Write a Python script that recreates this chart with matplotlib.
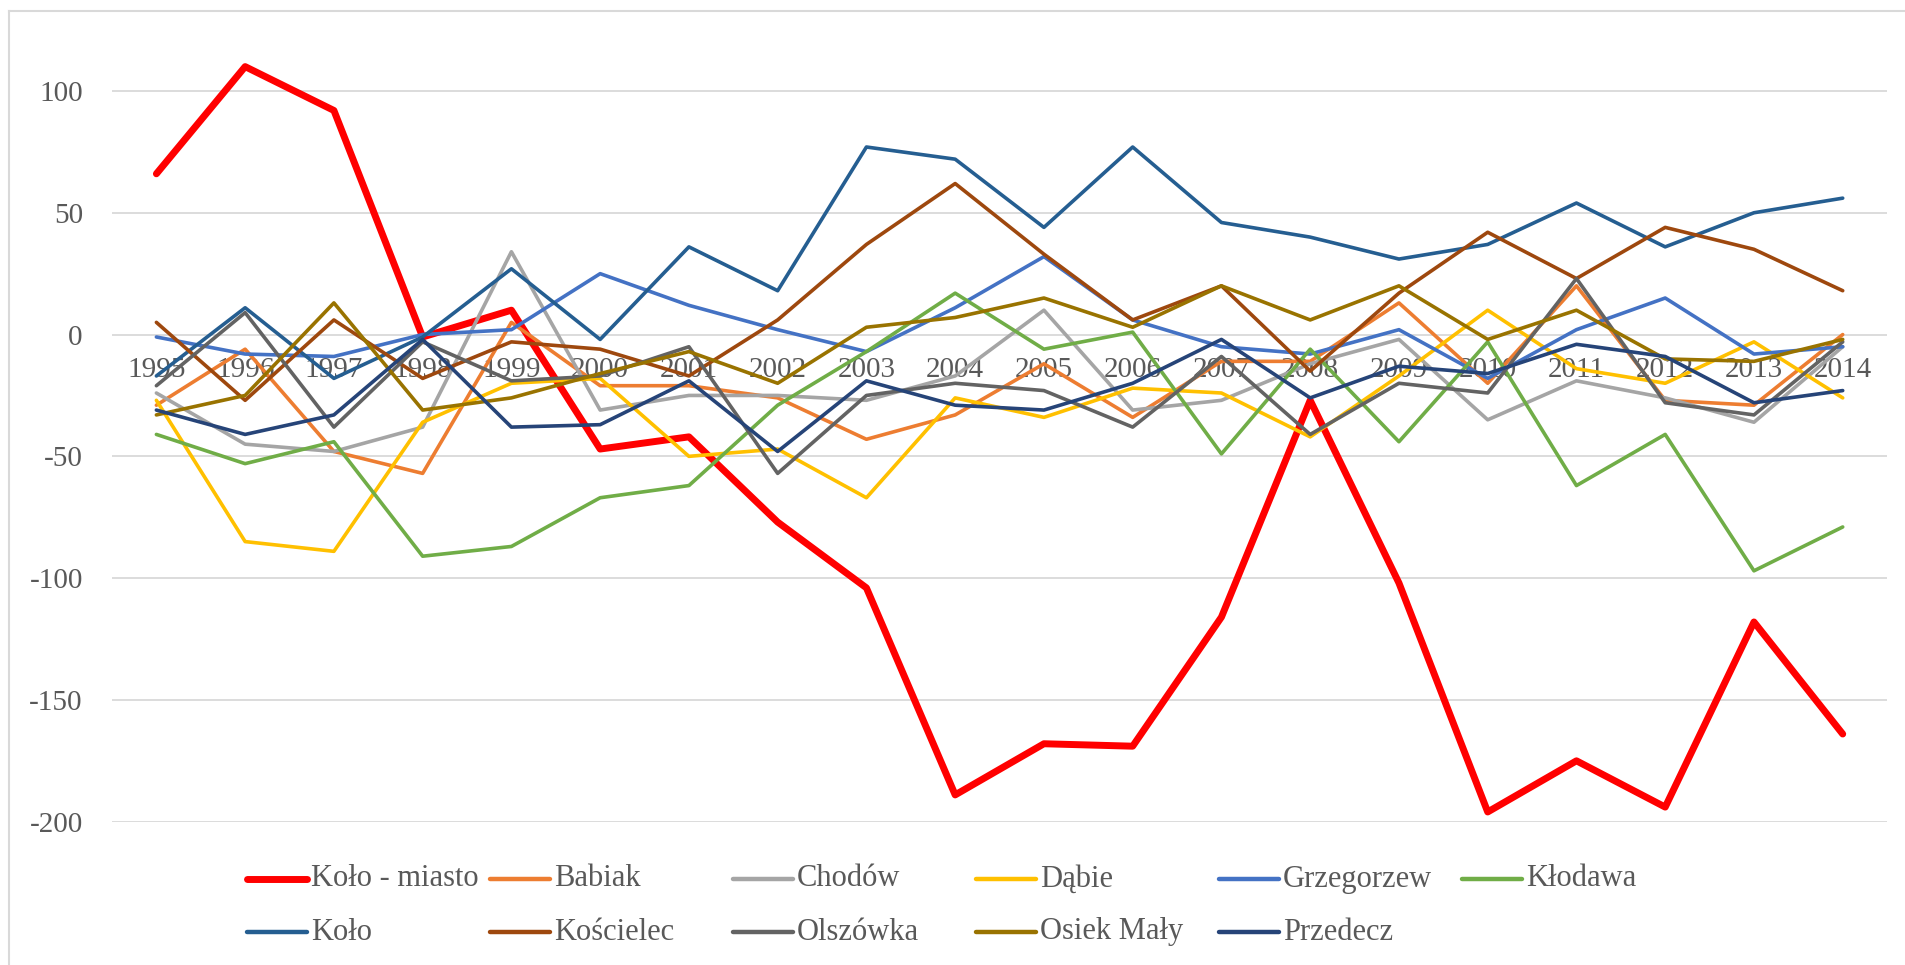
import matplotlib.pyplot as plt
from matplotlib.lines import Line2D

years = list(range(1995, 2015))

kolo_miasto = [66, 110, 92, -1, 10, -47, -42, -77, -104, -189, -168, -169, -116, -27, -102, -196, -175, -194, -118, -164]
babiak = [-29, -6, -48, -57, 5, -21, -21, -26, -43, -33, -12, -34, -11, -11, 13, -20, 20, -27, -29, 0]
chodow = [-24, -45, -48, -38, 34, -31, -25, -25, -27, -17, 10, -31, -27, -12, -2, -35, -19, -26, -36, -5]
dabie = [-27, -85, -89, -36, -20, -18, -50, -47, -67, -26, -34, -22, -24, -42, -17, 10, -14, -20, -3, -26]
grzegorzew = [-1, -8, -9, 0, 2, 25, 12, 2, -7, 11, 32, 6, -5, -8, 2, -18, 2, 15, -8, -5]
klodawa = [-41, -53, -44, -91, -87, -67, -62, -29, -7, 17, -6, 1, -49, -6, -44, -3, -62, -41, -97, -79]
kolo = [-17, 11, -18, -1, 27, -2, 36, 18, 77, 72, 44, 77, 46, 40, 31, 37, 54, 36, 50, 56]
koscielec = [5, -27, 6, -18, -3, -6, -17, 6, 37, 62, 33, 6, 20, -15, 17, 42, 23, 44, 35, 18]
olszowka = [-21, 9, -38, -3, -19, -17, -5, -57, -25, -20, -23, -38, -9, -41, -20, -24, 23, -28, -33, -3]
osiek_maly = [-33, -25, 13, -31, -26, -16, -7, -20, 3, 7, 15, 3, 20, 6, 20, -2, 10, -10, -11, -2]
przedecz = [-31, -41, -33, -2, -38, -37, -19, -48, -19, -29, -31, -20, -2, -26, -13, -16, -4, -9, -28, -23]

labels = ["Koło - miasto", "Babiak", "Chodów", "Dąbie", "Grzegorzew", "Kłodawa",
          "Koło", "Kościelec", "Olszówka", "Osiek Mały", "Przedecz"]
series = [kolo_miasto, babiak, chodow, dabie, grzegorzew, klodawa,
          kolo, koscielec, olszowka, osiek_maly, przedecz]
colors = ["#FF0000", "#ED7D31", "#A5A5A5", "#FFC000", "#4472C4", "#70AD47",
          "#255E91", "#9E480E", "#636363", "#997300", "#264478"]

plt.rcParams["font.family"] = ["Liberation Serif", "DejaVu Serif"]
plt.rcParams["axes.unicode_minus"] = False
text_color = "#595959"
fs = 21

fig = plt.figure(figsize=(19.05, 9.65), dpi=100)
ax = fig.add_axes([0.0588, 0.1485, 0.9318, 0.8077])

xs = list(range(len(years)))
for vals, col, lab in zip(series, colors, labels):
    lw = 5.0 if lab == "Koło - miasto" else 2.6
    ax.plot(xs, vals, color=col, lw=lw, solid_joinstyle="round",
            solid_capstyle="round", label=lab)

ax.set_xlim(-0.5, len(years) - 0.5)
ax.set_ylim(-200, 120)
ax.set_yticks(range(-200, 101, 50))
ax.set_xticks(xs)
ax.set_xticklabels([str(y) for y in years])

ax.yaxis.grid(True, color="#D9D9D9", lw=1.3)
ax.set_axisbelow(True)
for s in ["top", "right", "left"]:
    ax.spines[s].set_visible(False)
ax.spines["bottom"].set_position(("data", 0))
ax.spines["bottom"].set_visible(False)
ax.tick_params(axis="both", length=0, labelsize=fs, labelcolor=text_color)
ax.tick_params(axis="x", pad=16)
ax.tick_params(axis="y", pad=21)

# legend laid out like Excel: equal column widths, row-major order
x0, dx = 247 / 1905, 243 / 1905
rows_y = [1 - 879 / 965, 1 - 932 / 965]
hl = 60 / 1905
for i, (lab, col) in enumerate(zip(labels, colors)):
    r, c = divmod(i, 6)
    xh = x0 + c * dx
    yh = rows_y[r]
    lw = 5.0 if lab == "Koło - miasto" else 3.2
    fig.add_artist(Line2D([xh, xh + hl], [yh, yh], color=col, lw=lw,
                          solid_capstyle="round", transform=fig.transFigure))
    fig.text(xh + hl + 4 / 1905, yh, lab, fontsize=fs + 1, color=text_color,
             va="center", ha="left")

# chart area border (left and top visible in the source)
fig.add_artist(Line2D([9 / 1905, 9 / 1905], [0, 1 - 11 / 965], color="#D9D9D9",
                      lw=1.5, transform=fig.transFigure))
fig.add_artist(Line2D([9 / 1905, 1], [1 - 11 / 965, 1 - 11 / 965], color="#D9D9D9",
                      lw=1.5, transform=fig.transFigure))

fig.savefig("out.png", dpi=100)
